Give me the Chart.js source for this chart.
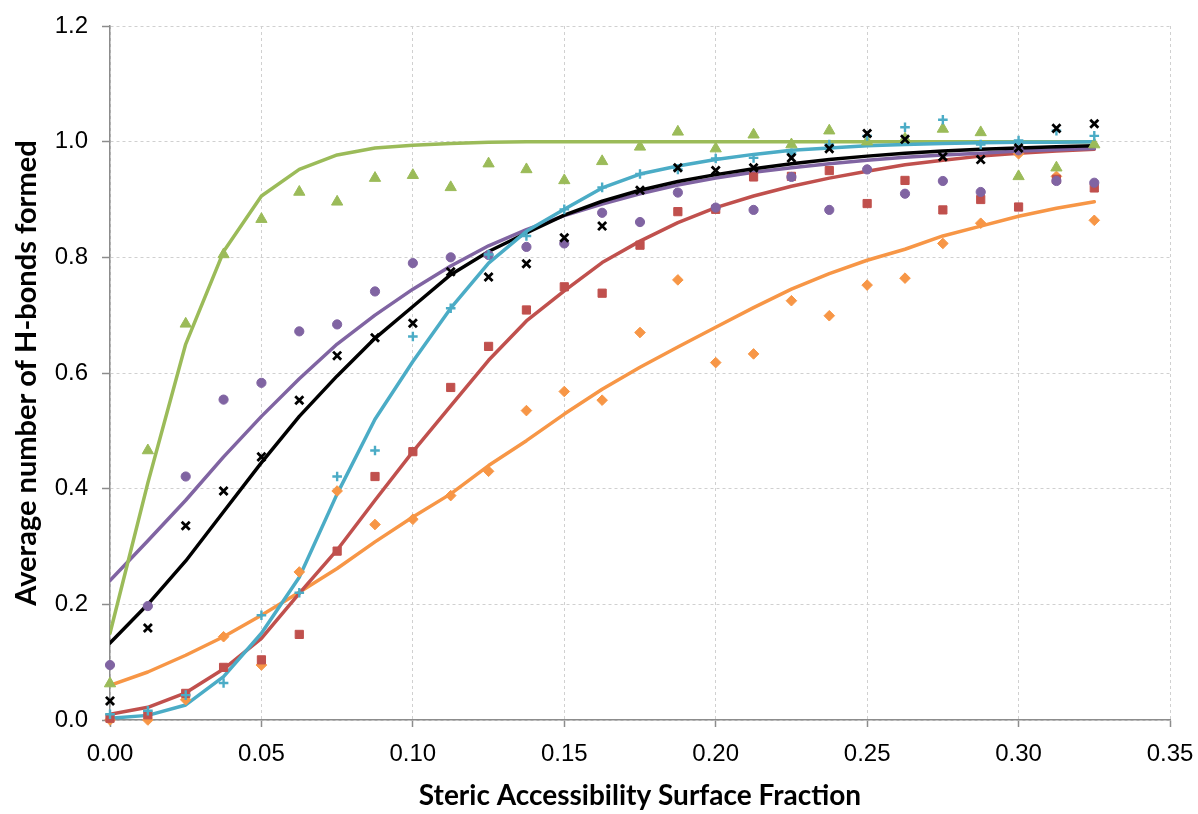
<!DOCTYPE html>
<html>
<head>
<meta charset="utf-8">
<script src="https://cdn.jsdelivr.net/npm/chart.js@4.4.1/dist/chart.umd.min.js"></script>
<style>
  html, body { margin: 0; padding: 0; background: #ffffff; }
  #wrap { width: 1198px; height: 814px; }
</style>
</head>
<body>
<div id="wrap"><canvas id="c" width="1198" height="814"></canvas></div>
<script>
// ---- Data ----
const xs = [0, 0.0125, 0.025, 0.0375, 0.05, 0.0625, 0.075, 0.0875, 0.1, 0.1125, 0.125, 0.1375, 0.15, 0.1625, 0.175,
            0.1875, 0.2, 0.2125, 0.225, 0.2375, 0.25, 0.2625, 0.275, 0.2875, 0.3, 0.3125, 0.325];

const greenPts  = [0.063, 0.466, 0.685, 0.805, 0.866, 0.913, 0.896, 0.937, 0.942, 0.921, 0.962, 0.952, 0.933, 0.966, 0.991,
                   1.017, 0.988, 1.012, 0.995, 1.019, 1.0, 1.005, 1.022, 1.016, 0.94, 0.955, 0.995];
const greenFit  = [0.15, 0.41, 0.65, 0.81, 0.906, 0.952, 0.977, 0.989, 0.994, 0.997, 0.999, 1.0, 1.0, 1.0, 1.0,
                   1.0, 1.0, 1.0, 1.0, 1.0, 1.0, 1.0, 1.0, 1.0, 1.0, 1.0, 1.0];

const purplePts = [0.095, 0.197, 0.421, 0.554, 0.583, 0.672, 0.684, 0.741, 0.79, 0.80, 0.804, 0.818, 0.824, 0.877, 0.861,
                   0.912, 0.886, 0.882, 0.939, 0.882, 0.952, 0.910, 0.932, 0.913, 0.985, 0.932, 0.929];
const purpleFit = [0.241, 0.31, 0.38, 0.455, 0.525, 0.59, 0.65, 0.70, 0.745, 0.785, 0.82, 0.848, 0.872, 0.892, 0.91,
                   0.925, 0.937, 0.947, 0.955, 0.962, 0.968, 0.973, 0.977, 0.98, 0.984, 0.986, 0.988];

const blackPts  = [0.033, 0.159, 0.336, 0.396, 0.455, 0.553, 0.63, 0.661, 0.686, 0.775, 0.766, 0.789, 0.834, 0.854, 0.916,
                   0.955, 0.950, 0.955, 0.972, 0.988, 1.014, 1.004, 0.974, 0.969, 0.989, 1.023, 1.031];
const blackFit  = [0.133, 0.20, 0.275, 0.36, 0.445, 0.525, 0.595, 0.66, 0.715, 0.77, 0.81, 0.842, 0.873, 0.897, 0.916,
                   0.931, 0.943, 0.953, 0.962, 0.969, 0.975, 0.98, 0.984, 0.987, 0.989, 0.991, 0.993];

const cyanPts   = [0.01, 0.016, 0.043, 0.064, 0.181, 0.22, 0.421, 0.466, 0.663, 0.712, 0.805, 0.837, 0.883, 0.921, 0.944,
                   0.952, 0.971, 0.972, 0.98, 0.995, 1.01, 1.025, 1.038, 0.995, 1.002, 1.019, 1.01];
const cyanFit   = [0.003, 0.008, 0.026, 0.075, 0.15, 0.247, 0.391, 0.52, 0.62, 0.712, 0.79, 0.845, 0.883, 0.92, 0.944,
                   0.958, 0.969, 0.978, 0.985, 0.989, 0.993, 0.995, 0.997, 0.998, 0.999, 0.999, 1.0];

const redPts    = [0.003, 0.009, 0.046, 0.091, 0.104, 0.148, 0.292, 0.421, 0.464, 0.575, 0.646, 0.709, 0.749, 0.738, 0.821,
                   0.879, 0.883, 0.939, 0.94, 0.95, 0.893, 0.933, 0.882, 0.90, 0.887, 0.935, 0.92];
const redFit    = [0.01, 0.022, 0.047, 0.088, 0.141, 0.219, 0.294, 0.38, 0.464, 0.543, 0.622, 0.69, 0.742, 0.791, 0.828,
                   0.86, 0.886, 0.906, 0.923, 0.937, 0.949, 0.96, 0.968, 0.975, 0.98, 0.984, 0.987];

const orangePts = [0.0, 0.0, 0.035, 0.144, 0.095, 0.256, 0.396, 0.338, 0.347, 0.388, 0.43, 0.535, 0.568, 0.553, 0.67,
                   0.761, 0.618, 0.633, 0.725, 0.699, 0.752, 0.764, 0.824, 0.859, 0.979, 0.94, 0.864];
const orangeFit = [0.06, 0.083, 0.112, 0.144, 0.181, 0.221, 0.262, 0.308, 0.351, 0.391, 0.44, 0.483, 0.529, 0.572, 0.61,
                   0.645, 0.679, 0.713, 0.745, 0.772, 0.795, 0.814, 0.837, 0.854, 0.871, 0.885, 0.896];

const xTitle = 'Steric Accessibility Surface Fraction';
const yTitle = 'Average number of H-bonds formed';

// ---- Styles ----
const C = { green: '#9BBB59', purple: '#8064A2', black: '#000000', cyan: '#4BACC6', red: '#C0504D', orange: '#F79646' };

function pts(vals) { return xs.map((x, i) => ({ x: x, y: vals[i] })); }

function markers(vals, color, style, radius, bw, filled) {
  return {
    data: pts(vals), showLine: false, clip: false,
    pointStyle: style, pointRadius: radius, pointHoverRadius: radius,
    backgroundColor: filled ? color : 'transparent', borderColor: color, pointBorderWidth: bw
  };
}
function fit(vals, color) {
  return {
    data: pts(vals), showLine: true, pointRadius: 0, pointHoverRadius: 0,
    borderColor: color, backgroundColor: color, borderWidth: 3.5, tension: 0, fill: false,
    borderJoinStyle: 'round', borderCapStyle: 'round'
  };
}

// first dataset drawn on top
const datasets = [
  markers(blackPts,  C.black,  'crossRot', 5.7, 2.8, false),
  markers(cyanPts,   C.cyan,   'cross',    4.8, 2.4, false),
  markers(greenPts,  C.green,  'triangle', 6.5, 1, true),
  markers(purplePts, C.purple, 'circle',   4.6, 1, true),
  markers(redPts,    C.red,    'rect',     5.8, 1, true),
  markers(orangePts, C.orange, 'rectRot',  5.3, 1, true),
  fit(cyanFit,   C.cyan),
  fit(greenFit,  C.green),
  fit(blackFit,  C.black),
  fit(purpleFit, C.purple),
  fit(redFit,    C.red),
  fit(orangeFit, C.orange)
];

const tickFont = { family: "'Liberation Sans', Arial, sans-serif", size: 24 };
const titleFontX = { family: "Lato, 'Open Sans', sans-serif", size: 28, weight: 'bold' };
const titleFontY = { family: "Lato, 'Open Sans', sans-serif", size: 29, weight: 'bold' };

new Chart(document.getElementById('c'), {
  type: 'scatter',
  data: { datasets: datasets },
  options: {
    responsive: false,
    devicePixelRatio: 1,
    animation: false,
    events: [],
    layout: { padding: { top: 26, right: 28, left: 0, bottom: 0 } },
    plugins: { legend: { display: false }, tooltip: { enabled: false } },
    scales: {
      x: {
        type: 'linear', min: 0, max: 0.35,
        afterFit: (s) => { s.height = 94; s.paddingLeft = 0; s.paddingRight = 0; },
        ticks: { stepSize: 0.05, color: '#000', font: tickFont, padding: 13,
                 callback: (v) => v.toFixed(2), maxRotation: 0 },
        grid: { color: '#d0d0d0', lineWidth: 1, tickLength: 7, tickColor: '#8c8c8c', tickWidth: 1.5 },
        border: { display: true, color: '#8c8c8c', width: 1.5, dash: [3, 3] },
        title: { display: true, text: xTitle, color: '#000', font: titleFontX, padding: { top: 0, bottom: 1 } }
      },
      y: {
        type: 'linear', min: 0, max: 1.2,
        afterFit: (s) => { s.width = 110; s.paddingTop = 0; s.paddingBottom = 0; },
        ticks: { stepSize: 0.2, color: '#000', font: tickFont, padding: 14,
                 callback: (v) => v.toFixed(1) },
        grid: { color: '#d0d0d0', lineWidth: 1, tickLength: 8, tickColor: '#8c8c8c', tickWidth: 1.5 },
        border: { display: true, color: '#8c8c8c', width: 1.5, dash: [3, 3] },
        title: { display: true, text: yTitle, color: '#000', font: titleFontY, padding: { top: 9, bottom: 0 } }
      }
    }
  }
});
</script>
</body>
</html>
